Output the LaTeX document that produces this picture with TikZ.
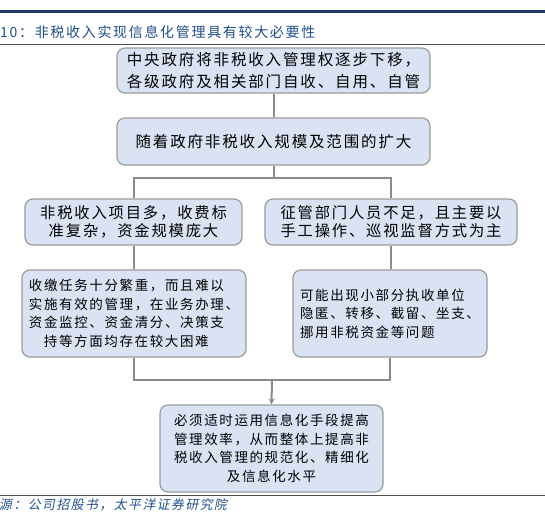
\documentclass[tikz,border=0pt]{standalone}
\usepackage{fontspec}
\usetikzlibrary{arrows.meta}
\newfontfamily\cjk{Noto Sans CJK SC}[LetterSpace=12]
\newfontfamily\cjkslant{Noto Sans CJK SC}[LetterSpace=12,FakeSlant=0.2]
\definecolor{boxfill}{HTML}{DAE3F3}
\definecolor{boxline}{HTML}{9A9A9A}
\definecolor{conn}{HTML}{8A8A8A}
\definecolor{navy}{HTML}{1F3864}
\definecolor{titleblue}{HTML}{1F4E8C}
\definecolor{rulegray}{HTML}{505050}
\begin{document}
\begin{tikzpicture}[x=1pt,y=-1pt,
  flowbox/.style={draw=boxline, line width=1.2pt, fill=boxfill, rounded corners=8pt, inner sep=0pt, text=black},
  connline/.style={draw=conn, line width=2pt},
  bigtext/.style={font=\cjk\fontsize{15.5}{21.6}\selectfont},
  midtext/.style={font=\cjk\fontsize{15.3}{18.3}\selectfont},
  smalltext/.style={font=\cjk\fontsize{13.5}{18.6}\selectfont},
]
\useasboundingbox (0,0) rectangle (545,523);
% rules
\draw[navy, line width=3pt] (0,11.5) -- (545,11.5);
\draw[rulegray, line width=1pt] (0,44) -- (545,44);
\draw[rulegray, line width=0.8pt] (0,495) -- (545,495);
% title and source
\node[anchor=west, inner sep=0pt, text=titleblue, font=\cjk\fontsize{14}{16}\selectfont] (title) at (0,32) {10：非税收入实现信息化管理具有较大必要性};
\node[anchor=west, inner sep=0pt, text=titleblue, font=\cjkslant\fontsize{12.8}{14}\selectfont] (src) at (-1,505) {源：公司招股书，太平洋证券研究院};
% boxes
\node[flowbox, bigtext, align=center, minimum width=313pt, minimum height=45pt] (b1) at (273.5,70.5) {中央政府将非税收入管理权逐步下移，\\各级政府及相关部门自收、自用、自管};
\node[flowbox, bigtext, align=center, minimum width=313pt, minimum height=47pt] (b2) at (273.5,141.5) {随着政府非税收入规模及范围的扩大};
\node[flowbox, midtext, align=center, minimum width=217pt, minimum height=46pt] (b3) at (133.5,222) {非税收入项目多，收费标\\准复杂，资金规模庞大};
\node[flowbox, midtext, align=center, minimum width=252pt, minimum height=46pt] (b4) at (391,222) {征管部门人员不足，且主要以\\手工操作、巡视监督方式为主};
\node[flowbox, smalltext, align=left, minimum width=224pt, minimum height=87pt] (b5) at (134,313.5) {收缴任务十分繁重，而且难以\\实施有效的管理，在业务办理、\\资金监控、资金清分、决策支\\\hspace*{15pt}持等方面均存在较大困难};
\node[flowbox, smalltext, align=left, minimum width=194pt, minimum height=87pt] (b6) at (390,313.5) {可能出现小部分执收单位\\隐匿、转移、截留、坐支、\\挪用非税资金等问题};
\node[flowbox, smalltext, align=center, minimum width=223pt, minimum height=87pt] (b7) at (271.5,448.5) {必须适时运用信息化手段提高\\管理效率，从而整体上提高非\\税收入管理的规范化、精细化\\及信息化水平};
% connectors
\coordinate (j1) at (273.5,178);
\coordinate (j2) at (272,380);
\draw[connline] (b1.south) -- (b2.north);
\draw[connline] (b2.south) -- (j1);
\draw[connline] (b3.north) |- (j1) -| (b4.north);
\draw[connline] (b3.south) -- (b3.south |- b5.north);
\draw[connline] (b4.south) -- (b4.south |- b6.north);
\draw[connline] (b5.south) |- (j2) -| (b6.south);
\draw[connline, -{Stealth[length=6pt,width=6pt]}] (j2) -- (b7.north);
\end{tikzpicture}
\end{document}
